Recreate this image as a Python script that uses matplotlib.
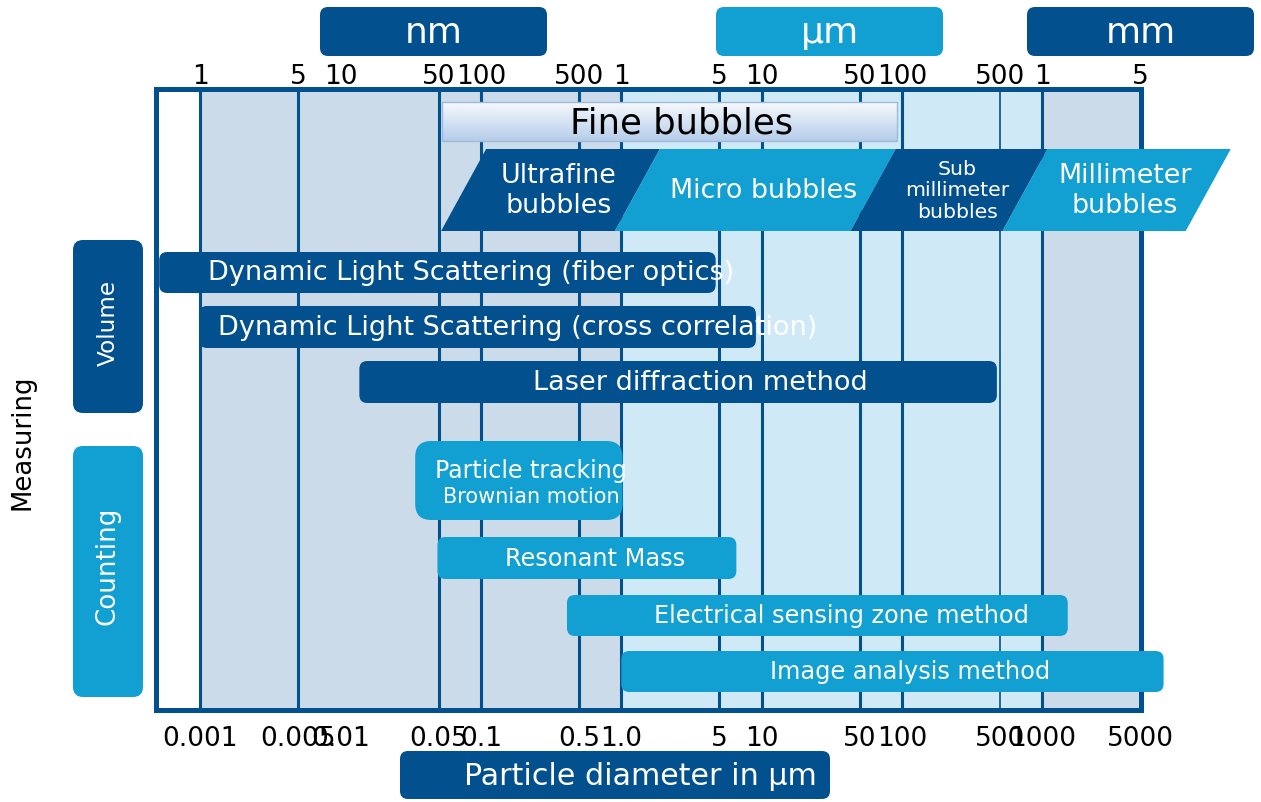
import numpy as np
import matplotlib.pyplot as plt
from matplotlib.patches import FancyBboxPatch, Polygon, Rectangle
from matplotlib.colors import LinearSegmentedColormap
from matplotlib.ticker import NullLocator

DARK = '#03508f'
LIGHT = '#129fd2'
SHADE_NM = '#cbdbea'
SHADE_UM = '#cfeaf6'

# particle diameter in um
tick_pos = [0.001, 0.005, 0.01, 0.05, 0.1, 0.5, 1, 5, 10, 50, 100, 500, 1000, 5000]
bottom_labels = ['0.001', '0.005', '0.01', '0.05', '0.1', '0.5', '1.0',
                 '5', '10', '50', '100', '500', '1000', '5000']
top_labels = ['1', '5', '10', '50', '100', '500', '1', '5', '10', '50', '100', '500', '1', '5']
grid_lines = [0.001, 0.005, 0.05, 0.1, 0.5, 1, 5, 10, 50, 100, 500, 1000]
units = ['nm', 'μm', 'mm']

fine_bubbles = (0.053, 92)
bubble_names = ['Ultrafine\nbubbles', 'Micro bubbles', 'Sub\nmillimeter\nbubbles', 'Millimeter\nbubbles']
bubble_edges = [0.052, 0.9, 43, 520, 10500]

methods = ['Dynamic Light Scattering (fiber optics)',
           'Dynamic Light Scattering (cross correlation)',
           'Laser diffraction method',
           'Particle tracking',
           'Resonant Mass',
           'Electrical sensing zone method',
           'Image analysis method']
method_lo = [0.00051, 0.00098, 0.0136, 0.034, 0.049, 0.41, 1.0]
method_hi = [4.7, 9.1, 474, 1.02, 6.6, 1516, 7300]
method_group = ['Volume', 'Volume', 'Volume', 'Counting', 'Counting', 'Counting', 'Counting']

# layout (figure pixels)
rows = [(253, 294), (307, 349), (362, 404), (442, 521), (538, 580), (596, 637), (652, 693)]
label_shift = [34, 40, 22, 12, 8, 24, 18]

fig = plt.figure(figsize=(12.61, 8.03), dpi=100)
L, R, T, B = 155.5, 1140.5, 90, 711
ax = fig.add_axes([L / 1261, 1 - B / 803, (R - L) / 1261, (B - T) / 803])
ax.set_xscale('log')
ax.set_xlim(4.8e-4, 5000)
ax.set_ylim(0, 1)

ax.axvspan(0.001, 1, color=SHADE_NM, lw=0)
ax.axvspan(1, 1000, color=SHADE_UM, lw=0)
ax.axvspan(1000, 5000, color=SHADE_NM, lw=0)
for g in grid_lines:
    ax.axvline(g, color=DARK, lw=1.2 if g == 500 else 2.2)
for s in ax.spines.values():
    s.set_color(DARK)
    s.set_linewidth(3.6)

ax.set_xticks(tick_pos, bottom_labels)
ax.xaxis.set_minor_locator(NullLocator())
ax.set_yticks([])
ax.tick_params(axis='x', length=0, labelsize=19, pad=11)

sec = ax.secondary_xaxis('top')
sec.set_xticks(tick_pos, top_labels)
sec.xaxis.set_minor_locator(NullLocator())
sec.tick_params(length=0, labelsize=19, pad=0)
sec.spines['top'].set_visible(False)

# overlay in figure pixels
ov = fig.add_axes([0, 0, 1, 1], zorder=5)
ov.patch.set_alpha(0)
ov.axis('off')


def px(v):
    return ax.transData.transform((v, 0.5))[0]


def box(x0, x1, y0, y1, color, r=8, z=3):
    ov.add_patch(FancyBboxPatch((x0, y0), x1 - x0, y1 - y0,
                                boxstyle=f'round,pad=0,rounding_size={r}',
                                fc=color, ec='none', zorder=z))


# unit headers
for name, (x0, x1), c in zip(units, [(320, 547), (716, 943), (1027, 1254)], [DARK, LIGHT, DARK]):
    box(x0, x1, 8, 57, c)
    ov.text((x0 + x1) / 2, 33, name, color='white', fontsize=26, ha='center', va='center')

# fine bubbles header with gradient
fx0, fx1 = px(fine_bubbles[0]), px(fine_bubbles[1])
grad = np.linspace(0, 1, 64).reshape(-1, 1)
cmap = LinearSegmentedColormap.from_list('fb', ['#f6f9fd', '#b6cdea'])
ov.imshow(grad, extent=(fx0, fx1, 142, 103), cmap=cmap, aspect='auto', zorder=3)
ov.add_patch(Rectangle((fx0, 103), fx1 - fx0, 39, fill=False, ec='#9fbadb', lw=1, zorder=4))
ov.text((fx0 + fx1) / 2 + 12, 123, 'Fine bubbles', color='black', fontsize=25.5,
        ha='center', va='center', zorder=5)

# bubble classes as slanted bands
slant = 45
ybot, ytop = 232, 150
for i, name in enumerate(bubble_names):
    b0, b1 = px(bubble_edges[i]), px(bubble_edges[i + 1])
    c = DARK if i % 2 == 0 else LIGHT
    ov.add_patch(Polygon([(b0, ybot), (b1, ybot), (b1 + slant, ytop), (b0 + slant, ytop)],
                         closed=True, fc=c, ec='none', zorder=3))
    fs = 14.7 if name.startswith('Sub') else 19.4
    ov.text((b0 + b1) / 2 + slant / 2 + 8, (ybot + ytop) / 2, name, color='white', fontsize=fs,
            ha='center', va='center', linespacing=1.18, zorder=5)

# measuring methods
for i, name in enumerate(methods):
    x0, x1 = px(method_lo[i]), px(method_hi[i])
    y0, y1 = rows[i]
    c = DARK if method_group[i] == 'Volume' else LIGHT
    r = 16 if i == 3 else 8
    box(x0, x1, y0, y1, c, r=r)
    cx = (x0 + x1) / 2 + label_shift[i]
    if i == 3:
        ov.text(cx, 471, name, color='white', fontsize=17, ha='center', va='center', zorder=5)
        ov.text(cx, 497, 'Brownian motion', color='white', fontsize=15, ha='center', va='center', zorder=5)
    else:
        fs = 19.5 if method_group[i] == 'Volume' else 17.3
        ov.text(cx, (y0 + y1) / 2, name, color='white', fontsize=fs, ha='center', va='center', zorder=5)

# group labels on the left
box(73, 143, 241, 414, DARK, r=10)
box(73, 143, 447, 698, LIGHT, r=10)
ov.text(108, 323, 'Volume', color='white', fontsize=16.7, rotation=90, ha='center', va='center')
ov.text(108, 566, 'Counting', color='white', fontsize=18.8, rotation=90, ha='center', va='center')
ov.text(22, 442, 'Measuring', color='black', fontsize=18.7, rotation=90, ha='center', va='center')

# axis title
box(400, 830, 752, 800, DARK)
ov.text(640, 777, 'Particle diameter in μm', color='white', fontsize=21.7, ha='center', va='center')

ov.set_xlim(0, 1261)
ov.set_ylim(803, 0)

fig.savefig('out.png', dpi=100)
